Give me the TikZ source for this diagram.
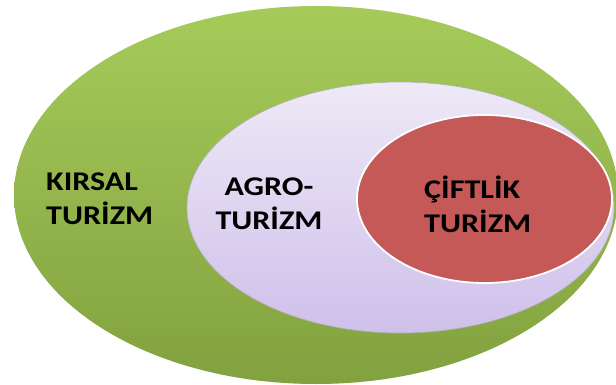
\documentclass[tikz,border=0pt]{standalone}
\usepackage{fontspec}
\usetikzlibrary{shapes.geometric}
\newfontfamily\tourfont{Carlito}[FakeStretch=1.19]
\definecolor{grasstop}{RGB}{166,203,90}
\definecolor{grassbot}{RGB}{130,161,63}
\definecolor{lilactop}{RGB}{238,233,247}
\definecolor{lilacbot}{RGB}{207,192,234}
\definecolor{farmred}{RGB}{197,89,87}
\tikzset{
  zone/.style={ellipse,inner sep=0pt},
  zonelabel/.style={inner sep=0pt,font=\tourfont\bfseries\fontsize{27}{34}\selectfont}
}
\begin{document}
\begin{tikzpicture}[x=1pt,y=-1pt]
  \useasboundingbox (0,0) rectangle (616,385);
  \node [zone,minimum width=604pt,minimum height=378pt,top color=grasstop,bottom color=grassbot] (rural) at (316,195) {};
  \node [zone,minimum width=427pt,minimum height=251pt,top color=lilactop,bottom color=lilacbot,draw=black!30,line width=0.6pt] (agro) at (400.5,207.5) {};
  \node [zone,minimum width=255pt,minimum height=168pt,fill=farmred,draw=white,line width=1.8pt] (farm) at (484.5,199) {};

  \node [zonelabel,anchor=base west,align=left] (ruraltext) at (46,224) {KIRSAL\\TURİZM};
  \node [zonelabel,anchor=base,align=center] (agrotext) at (269,229) {AGRO-\\TURİZM};
  \node [zonelabel,anchor=base west,align=left] (farmtext) at (424,232) {ÇİFTLİK\\TURİZM};
\end{tikzpicture}
\end{document}
